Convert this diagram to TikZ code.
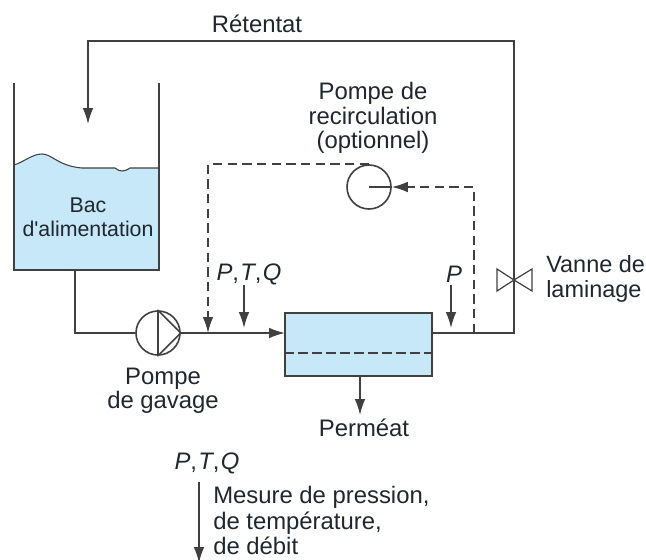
\documentclass[tikz,border=0pt]{standalone}
\usepackage{fontspec}
\setmainfont{Liberation Sans}[Ligatures=TeXOff]
\usepackage{xcolor}
\usetikzlibrary{arrows.meta,positioning,calc}
\definecolor{liquide}{HTML}{C6E8F9}
\definecolor{trait}{HTML}{404040}
\definecolor{encre}{HTML}{20262E}

\begin{document}
\begin{tikzpicture}[x=0.75pt, y=-0.75pt,
    every node/.style={font=\fontsize{17.9}{18.2}\selectfont, text=encre, align=center},
    pipe/.style={draw=trait, line width=1.2pt},
    flow/.style={pipe, -{Latex[length=12pt,width=8pt]}},
    dashflow/.style={flow, dash pattern=on 7pt off 4pt},
    pump/.style={circle, draw=trait, line width=1.2pt, inner sep=0pt, minimum size=33pt}]
    \useasboundingbox (0,0) rectangle (646,560);
    % bac
    \fill[liquide] (14,165) .. controls (24,162) and (32,154) .. (42,154) .. controls (52,154) and (58,166) .. (82,168)
        -- (115,168) .. controls (120,172) and (124,172) .. (130,168) -- (159,168) -- (159,270) -- (14,270) -- cycle;
    \draw[trait, line width=0.8pt] (14,165) .. controls (24,162) and (32,154) .. (42,154) .. controls (52,154) and (58,166) .. (82,168)
        -- (115,168) .. controls (120,172) and (124,172) .. (130,168) -- (159,168);
    \draw[pipe] (14,83) -- (14,270) -- (159,270) -- (159,83);
    \node (bac) at (88,217) [font=\fontsize{16}{18}\selectfont] {Bac\\d'alimentation};
    % points of the circuit
    \coordinate (sortie) at (75,270);
    \coordinate (arrivee) at (88,124);
    \coordinate (entree) at (285,333);
    \coordinate (retour) at (432,333);
    \coordinate (coude) at (514,333);
    \coordinate (haut) at (514,41);
    \coordinate (jrecirc) at (208,333);
    \coordinate (jdepart) at (474,333);
    \coordinate (vanne) at (514,280);
    % pumps and module
    \node (gavage) at (158,333) [pump] {};
    \draw[pipe, line join=round] (gavage.north) -- (gavage.east) -- (gavage.south) -- cycle;
    \node (recirc) at (369,187) [pump] {};
    \node (module) at (358.5,344.5) [draw=trait, line width=1.2pt, fill=liquide, minimum width=110pt, minimum height=47pt, inner sep=0pt] {};
    \draw[pipe, dash pattern=on 7pt off 3.5pt] (module.west |- 0,353) -- (module.east |- 0,353);
    % valve
    \draw[trait, line width=0.9pt] (vanne) -- ++(-17,-11) -- ++(0,22) -- cycle;
    \draw[trait, line width=0.9pt] (vanne) -- ++(18,-11) -- ++(0,22) -- cycle;
    % connectors
    \draw[pipe] (sortie) |- (gavage.west);
    \draw[flow] (gavage.east) -- (entree);
    \draw[flow] (retour) -- (coude) -- (haut) -| (arrivee);
    \draw[dashflow] (recirc.north) -| (jrecirc);
    \draw[dashflow] (jdepart) |- (recirc.east);
    \draw[pipe] (recirc.center) -- (recirc.east);
    % labels
    \node (retentat) at (257,24) {Rétentat};
    \node (optionnel) at (373,118) {Pompe de\\recirculation\\(optionnel)};
    \node (lgavage) at (163,391) {Pompe\\de gavage};
    \node (ptq) at (249,274) {\textit{P},\kern1pt\textit{T},\kern1pt\textit{Q}};
    \node (p) at (454,274) {\textit{P}};
    \node (lvanne) at (546,279) [anchor=west, align=left, inner sep=0pt, font=\fontsize{17.6}{18.2}\selectfont] {Vanne de\\laminage};
    \node (permeat) at (364,428) {Perméat};
    \node (legptq) at (207,463) {\textit{P},\kern1pt\textit{T},\kern1pt\textit{Q}};
    \node (legende) at (213,520.5) [anchor=west, align=left, inner sep=0pt, font=\fontsize{17.9}{19}\selectfont] {Mesure de pression,\\de température,\\de débit};
    % measures
    \coordinate (mptq) at (244,328);
    \coordinate (mp) at (451,328);
    \coordinate (sperm) at (360,415);
    \coordinate (legbas) at (199,563);
    \draw[flow] (244,285) -- (mptq);
    \draw[flow] (451,285) -- (mp);
    \draw[flow] (module.south -| sperm) -- (sperm);
    \draw[flow] (199,482) -- (legbas);
\end{tikzpicture}
\end{document}
